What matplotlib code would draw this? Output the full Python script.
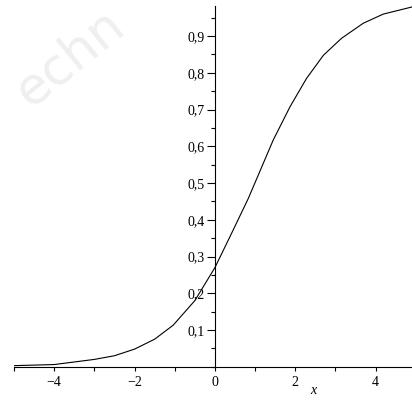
import matplotlib
matplotlib.use("Agg")
import matplotlib.pyplot as plt
from matplotlib.ticker import MultipleLocator, FuncFormatter

# curve sample points (the plot is drawn as straight segments)
x_vals = [-5.0, -4.0, -3.0, -2.5, -2.0, -1.5, -1.04, -0.5, 0.0, 0.4,
          0.83, 1.45, 1.87, 2.28, 2.70, 3.15, 3.69, 4.19, 5.0]
y_vals = [0.003, 0.006, 0.020, 0.030, 0.048, 0.075, 0.113, 0.180, 0.270, 0.360,
          0.458, 0.617, 0.708, 0.785, 0.848, 0.894, 0.935, 0.960, 0.982]

x_ticks = [-4, -2, 0, 2, 4]
y_ticks = [0.1, 0.2, 0.3, 0.4, 0.5, 0.6, 0.7, 0.8, 0.9]

plt.rcParams["font.family"] = ["Liberation Serif", "DejaVu Serif"]

W, H = 412, 403
fig = plt.figure(figsize=(W / 100, H / 100), dpi=100)
fig.patch.set_facecolor("white")

# faint watermark in the top left corner
fig.text(70 / W, 1 - 58 / H, "echn", fontsize=37, color="#efefef",
         rotation=39, ha="center", va="center", family="DejaVu Sans",
         zorder=0)

ax = fig.add_axes([14 / W, 1 - 366.75 / H, (W - 14) / W, (366.75 - 6) / H])
ax.patch.set_alpha(0)

ax.plot(x_vals, y_vals, color="black", linewidth=0.8)

ax.set_xlim(-5, 4.904)
ax.set_ylim(0, 0.982)

ax.spines["top"].set_visible(False)
ax.spines["right"].set_visible(False)
ax.spines["left"].set_position(("data", 0))
ax.spines["left"].set_linewidth(0.8)
ax.spines["bottom"].set_linewidth(0.8)

ax.set_xticks(x_ticks)
ax.xaxis.set_minor_locator(MultipleLocator(1))
ax.set_yticks(y_ticks)
ax.yaxis.set_minor_locator(MultipleLocator(0.05))
ax.yaxis.set_major_formatter(FuncFormatter(lambda v, p: f"{v:.1f}".replace(".", ",")))
ax.xaxis.set_major_formatter(FuncFormatter(lambda v, p: f"{v:.0f}".replace("-", "\u2212")))

ax.tick_params(axis="y", which="major", length=5.5, width=0.8, pad=2, labelsize=10)
ax.tick_params(axis="y", which="minor", length=3, width=0.8)
ax.tick_params(axis="x", which="both", length=2.7, width=0.8, pad=4, labelsize=10)

fig.text(313 / W, 1 - 390 / H, "x", fontsize=10, style="italic",
         ha="center", va="center")

fig.savefig("out.png", dpi=100, facecolor="white")
